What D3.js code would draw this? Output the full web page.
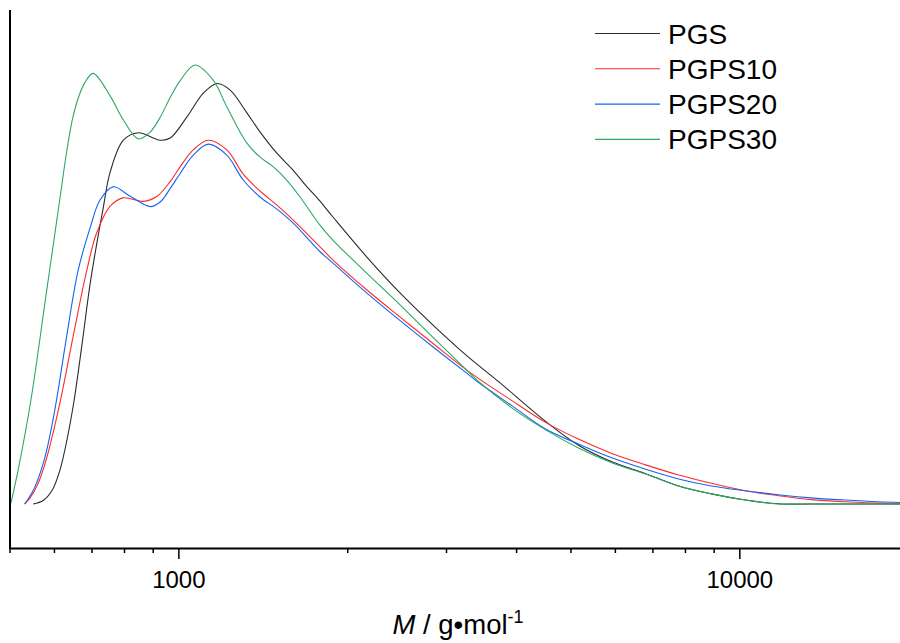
<!DOCTYPE html>
<html>
<head>
<meta charset="utf-8">
<script src="https://cdn.jsdelivr.net/npm/d3@7"></script>
<style>
  body { margin: 0; background: #fff; }
  svg { font-family: "Liberation Sans", Arial, sans-serif; }
</style>
</head>
<body>
<div></div>
<script>
var width = 900;
var height = 643;

// molar mass (g/mol) and detector signal
var pgsM = [551, 574, 596, 615, 633, 652, 675, 697, 735, 756, 798, 849, 928, 967, 1036, 1108, 1172, 1237, 1325, 1398, 1497, 1601, 1693, 1787, 1885, 2166, 2479, 2838, 3262, 3732, 4523, 5176, 5925, 6808, 7795, 8921, 10250, 11730, 13500, 19340];
var pgsI = [0.1, 0.9, 3.3, 7.8, 14.7, 23.75, 37.4, 50.6, 67.6, 75.6, 82.8, 84.5, 82.8, 83.3, 88.1, 93.5, 95.7, 94.2, 89.0, 84.7, 79.9, 76.0, 72.3, 69.0, 65.4, 56.3, 48.2, 40.9, 33.9, 27.8, 18.8, 13.4, 9.7, 7.0, 4.2, 2.4, 1.0, 0.15, 0.1, 0.1];

var pgps10M = [532, 544, 562, 581, 615, 649, 687, 715, 756, 797, 865, 915, 967, 1008, 1063, 1131, 1220, 1305, 1398, 1497, 1601, 1787, 1885, 2166, 2479, 2838, 3262, 3888, 4523, 5176, 5925, 6808, 7795, 8921, 10250, 11730, 13430, 15430, 17660, 19340];
var pgps10I = [0.1, 1.5, 4.7, 10.1, 23.1, 38.1, 53.3, 61.7, 67.8, 69.7, 68.9, 70.0, 73.4, 76.8, 80.6, 82.8, 80.6, 75.1, 71.25, 68.1, 64.7, 58.6, 55.6, 48.8, 42.7, 36.7, 30.6, 24.0, 18.6, 14.8, 11.6, 9.0, 6.7, 4.8, 3.1, 2.0, 1.1, 0.6, 0.3, 0.15];

var pgps20M = [532, 540, 555, 579, 603, 632, 663, 697, 725, 765, 822, 892, 929, 968, 1008, 1063, 1131, 1220, 1305, 1398, 1497, 1601, 1787, 1885, 2166, 2479, 2838, 3262, 3440, 3936, 4523, 5176, 5925, 6808, 7795, 8921, 10250, 11730, 13430, 15430, 17660, 19340];
var pgps20I = [0.1, 1.25, 4.0, 11.0, 21.9, 38.1, 53.3, 63.1, 69.2, 72.2, 70.0, 67.7, 68.8, 71.9, 75.3, 79.4, 81.9, 79.4, 73.75, 69.9, 67.2, 64.0, 57.5, 54.9, 48.1, 41.9, 35.9, 29.9, 27.6, 22.4, 17.1, 13.7, 10.6, 8.0, 5.8, 4.2, 3.1, 2.2, 1.5, 1.0, 0.6, 0.45];

var pgps30M = [503, 518, 546, 583, 617, 631, 647, 663, 682, 705, 757, 798, 849, 890, 928, 968, 1007, 1071, 1153, 1220, 1324, 1397, 1475, 1560, 1648, 1788, 1885, 2166, 2479, 2838, 3262, 3440, 3936, 4523, 5176, 5925, 6808, 7795, 8921, 10250, 11730, 13500, 19340];
var pgps30I = [0.3, 7.8, 23.75, 49.0, 70.8, 79.5, 87.4, 92.4, 96.0, 98.0, 92.7, 87.4, 83.1, 84.6, 88.0, 92.6, 96.3, 99.9, 96.5, 90.4, 82.2, 79.0, 76.8, 73.75, 69.9, 63.5, 60.1, 52.6, 45.5, 38.1, 30.6, 27.8, 21.9, 16.9, 12.8, 9.5, 6.9, 4.2, 2.4, 1.0, 0.1, 0.1, 0.1];

var names = ["PGS", "PGPS10", "PGPS20", "PGPS30"];
var colors = ["#2b2b2b", "#ff2b2b", "#1464f0", "#2ca862"];

var majorTicks = [1000, 10000];
var minorTicks = [500, 600, 700, 800, 900, 2000, 3000, 4000, 5000, 6000, 7000, 8000, 9000];

var series = [
	{ name: names[0], color: colors[0], m: pgsM, v: pgsI },
	{ name: names[1], color: colors[1], m: pgps10M, v: pgps10I },
	{ name: names[2], color: colors[2], m: pgps20M, v: pgps20I },
	{ name: names[3], color: colors[3], m: pgps30M, v: pgps30I }
];

var svg = d3.select("div")
	.append("svg")
	.attr("width", width)
	.attr("height", height);

var x = d3.scaleLog().domain([500, 19340]).range([9.5, 900]);
var y = d3.scaleLinear().domain([-9.9, 112.4]).range([548, 10]);

var line = d3.line()
	.x(d => x(d[0]))
	.y(d => y(d[1]))
	.curve(d3.curveCatmullRom.alpha(0.5));

svg.append("g")
	.selectAll("path")
	.data(series)
	.enter()
	.append("path")
	.attr("fill", "none")
	.attr("stroke", s => s.color)
	.attr("stroke-width", 1.1)
	.attr("d", s => line(s.m.map((m, i) => [m, s.v[i]])));

// x axis: minor ticks, then major ticks with labels
var minorAxis = svg.append("g")
	.attr("transform", "translate(0,548)")
	.call(d3.axisBottom(x).tickValues(minorTicks).tickSize(5).tickFormat(""));
minorAxis.select(".domain").remove();
minorAxis.selectAll("line").attr("stroke", "#000").attr("stroke-width", 1.5);

var majorAxis = svg.append("g")
	.attr("transform", "translate(0,548)")
	.call(d3.axisBottom(x).tickValues(majorTicks).tickSize(11).tickSizeOuter(0).tickFormat(d3.format("d")));
majorAxis.select(".domain").attr("stroke", "#000").attr("stroke-width", 2);
majorAxis.selectAll("line").attr("stroke", "#000").attr("stroke-width", 1.5);
majorAxis.selectAll("text")
	.attr("font-size", 24)
	.attr("fill", "#000")
	.attr("y", 0)
	.attr("dy", 40);

// y axis line, no ticks
svg.append("line")
	.attr("x1", 10).attr("x2", 10)
	.attr("y1", y(112.4)).attr("y2", 549)
	.attr("stroke", "#000")
	.attr("stroke-width", 2);

var title = svg.append("text")
	.attr("x", 458)
	.attr("y", 634)
	.attr("text-anchor", "middle")
	.attr("font-size", 27.5)
	.attr("fill", "#000");
title.append("tspan").attr("font-style", "italic").text("M");
title.append("tspan").text(" / g\u2022mol");
title.append("tspan").attr("font-size", 18).attr("dy", -11).text("-1");

// legend
var legend = svg.append("g")
	.selectAll("g")
	.data(series)
	.enter()
	.append("g")
	.attr("transform", (s, i) => "translate(595," + (33.5 + i * 35.3) + ")");

legend.append("line")
	.attr("x1", 0).attr("x2", 65)
	.attr("stroke", s => s.color)
	.attr("stroke-width", 1.1);

legend.append("text")
	.attr("x", 73)
	.attr("dy", 10)
	.attr("font-size", 28)
	.attr("fill", "#000")
	.text(s => s.name);
</script>
</body>
</html>
